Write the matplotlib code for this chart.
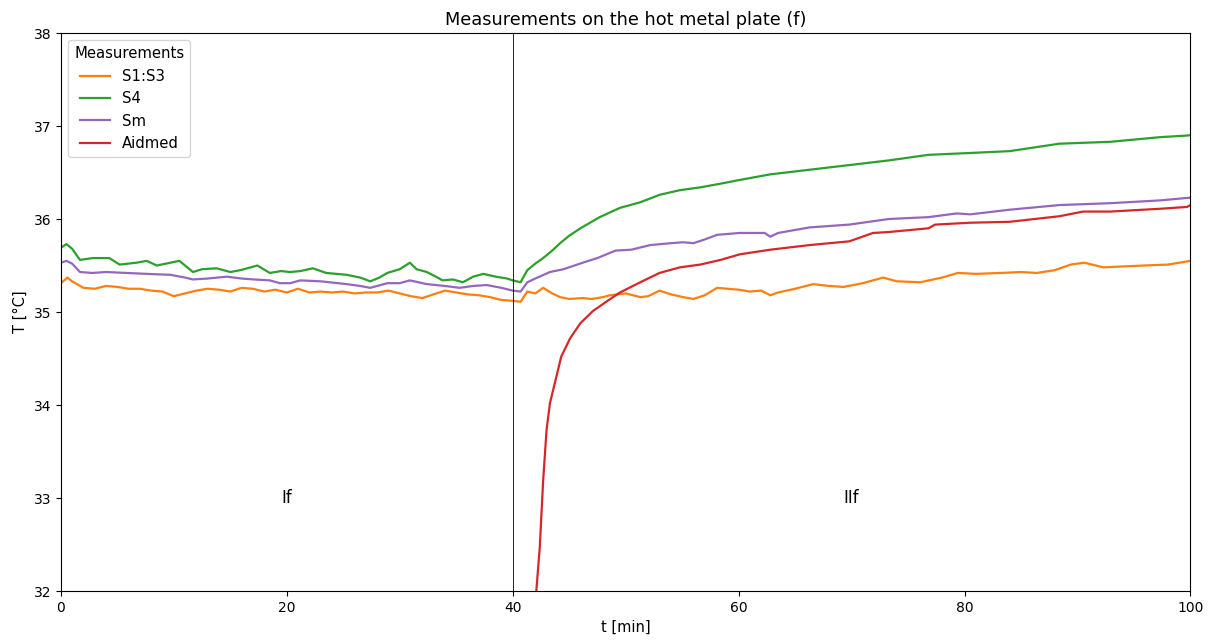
import matplotlib
matplotlib.use("Agg")
import matplotlib.pyplot as plt

# S1:S3 average
t_s13 = [0, 0.6, 1, 2, 3, 4, 5, 6, 7, 8, 9, 10, 11, 12, 13, 14, 15, 16, 17, 18, 19, 20,
         21, 22, 23, 24, 25, 26, 27, 28, 29, 30, 31, 32, 33, 34, 35, 36, 37, 38, 39, 40,
         40.7, 41.3, 42, 42.7, 43.5, 44.2, 45, 46.2, 47, 48, 48.6, 50, 51.3, 52, 53, 54,
         55.1, 56, 57, 58.1, 59, 60, 61, 62, 62.8, 63.5, 65, 66.6, 68, 69.3, 71, 72.8, 74,
         76.1, 78, 79.4, 81, 83.2, 85, 86.4, 88, 89.4, 90.6, 92.3, 94, 95.9, 98, 100]
T_s13 = [35.31, 35.37, 35.33, 35.26, 35.25, 35.28, 35.27, 35.25, 35.25, 35.23, 35.22, 35.17,
         35.20, 35.23, 35.25, 35.24, 35.22, 35.26, 35.25, 35.22, 35.24, 35.21, 35.25, 35.21,
         35.22, 35.21, 35.22, 35.20, 35.21, 35.21, 35.23, 35.20, 35.17, 35.15, 35.19, 35.23,
         35.21, 35.19, 35.18, 35.16, 35.13, 35.12, 35.11, 35.22, 35.20, 35.26, 35.20, 35.16,
         35.14, 35.15, 35.14, 35.16, 35.18, 35.20, 35.16, 35.17, 35.23, 35.19, 35.16, 35.14,
         35.18, 35.26, 35.25, 35.24, 35.22, 35.23, 35.18, 35.21, 35.25, 35.30, 35.28, 35.27,
         35.31, 35.37, 35.33, 35.32, 35.37, 35.42, 35.41, 35.42, 35.43, 35.42, 35.45, 35.51,
         35.53, 35.48, 35.49, 35.50, 35.51, 35.55]

# S4
t_s4 = [0, 0.5, 1, 1.7, 2.8, 4.3, 5.2, 6.7, 7.6, 8.5, 9.7, 10.5, 11.7, 12.5, 13.8, 15, 15.9,
        17.4, 18.5, 19.5, 20.3, 21.2, 22.3, 23.5, 25.3, 26.5, 27.4, 28.2, 28.9, 30, 30.9,
        31.5, 32.4, 33.2, 33.8, 34.7, 35.6, 36.5, 37.4, 38.5, 39.5, 40, 40.7, 41.3, 42, 42.7,
        43.5, 44.2, 45, 46, 47.7, 49.5, 51.3, 53, 54.8, 56.6, 58.4, 60.1, 62.8, 66.3, 69.8,
        73.3, 76.8, 80.5, 84, 88.4, 92.9, 97.3, 100]
T_s4 = [35.69, 35.73, 35.68, 35.56, 35.58, 35.58, 35.51, 35.53, 35.55, 35.50, 35.53, 35.55,
        35.43, 35.46, 35.47, 35.43, 35.45, 35.50, 35.42, 35.44, 35.43, 35.44, 35.47, 35.42,
        35.40, 35.37, 35.33, 35.37, 35.42, 35.46, 35.53, 35.46, 35.43, 35.38, 35.34, 35.35,
        35.32, 35.38, 35.41, 35.38, 35.36, 35.34, 35.32, 35.45, 35.52, 35.58, 35.66, 35.74,
        35.82, 35.90, 36.02, 36.12, 36.18, 36.26, 36.31, 36.34, 36.38, 36.42, 36.48, 36.53,
        36.58, 36.63, 36.69, 36.71, 36.73, 36.81, 36.83, 36.88, 36.90]

# Sm
t_sm = [0, 0.5, 1, 1.7, 2.8, 4, 5.8, 7.6, 9.7, 11, 11.7, 13, 14.7, 16, 17.1, 18.5, 19.4, 20.3,
        21.2, 23, 25.3, 26.5, 27.4, 28.9, 30, 30.9, 32.4, 34, 35.3, 36.5, 37.7, 39, 40, 40.7,
        41.3, 42, 43.3, 44.5, 46.2, 47.5, 49.1, 50.5, 52.2, 54, 55.1, 56, 57, 58.1, 60.1, 62.3,
        62.8, 63.5, 66.3, 69.8, 73.3, 76.8, 79.3, 80.5, 84, 88.4, 92.9, 97.3, 100]
T_sm = [35.53, 35.55, 35.52, 35.43, 35.42, 35.43, 35.42, 35.41, 35.40, 35.37, 35.35, 35.36,
        35.38, 35.36, 35.35, 35.34, 35.31, 35.31, 35.34, 35.33, 35.30, 35.28, 35.26, 35.31,
        35.31, 35.34, 35.30, 35.28, 35.26, 35.28, 35.29, 35.26, 35.23, 35.22, 35.32, 35.36,
        35.43, 35.46, 35.53, 35.58, 35.66, 35.67, 35.72, 35.74, 35.75, 35.74, 35.78, 35.83,
        35.85, 35.85, 35.81, 35.85, 35.91, 35.94, 36.00, 36.02, 36.06, 36.05, 36.10, 36.15,
        36.17, 36.20, 36.23]

# Aidmed
t_aid = [41.9, 42.1, 42.4, 42.7, 43.0, 43.3, 43.8, 44.3, 45.1, 46, 47.1, 48.4, 49.5, 51.3,
         53, 54.8, 56.6, 58.4, 60.1, 62.8, 66.3, 69.8, 71.9, 73.3, 76.8, 77.4, 80.5, 84,
         88.4, 90.5, 92.9, 97.3, 99.7, 100]
T_aid = [31.6, 32.01, 32.47, 33.19, 33.73, 34.02, 34.27, 34.52, 34.72, 34.88, 35.01, 35.12,
         35.21, 35.32, 35.42, 35.48, 35.51, 35.56, 35.62, 35.67, 35.72, 35.76, 35.85, 35.86,
         35.90, 35.94, 35.96, 35.97, 36.03, 36.08, 36.08, 36.11, 36.13, 36.15]

series_labels = ["S1:S3", "S4", "Sm", "Aidmed"]
series_colors = ["#ff7f0e", "#2ca02c", "#9467bd", "#d62728"]
phase_split = 40
phase_labels = ["If", "IIf"]
phase_label_pos = [(20, 33), (70, 33)]

fig = plt.figure(figsize=(12.16, 6.41), dpi=100)
ax = fig.add_axes([0.050, 0.078, 0.929, 0.8705])

for (t, T), lab, col in zip([(t_s13, T_s13), (t_s4, T_s4), (t_sm, T_sm), (t_aid, T_aid)],
                            series_labels, series_colors):
    ax.plot(t, T, color=col, lw=1.6, label=lab)

ax.axvline(phase_split, color="black", lw=0.6)
for txt, (x, y) in zip(phase_labels, phase_label_pos):
    ax.text(x, y, txt, fontsize=12, ha="center", va="center")

ax.set_xlim(0, 100)
ax.set_ylim(32, 38)
ax.set_title("Measurements on the hot metal plate (f)", fontsize=12.8)
ax.set_xlabel("t [min]", fontsize=10.5)
ax.set_ylabel("T [°C]", fontsize=10.5)
ax.legend(title="Measurements", loc="upper left", fontsize=10.7, title_fontsize=10.7)

fig.savefig("out.png", dpi=100)
